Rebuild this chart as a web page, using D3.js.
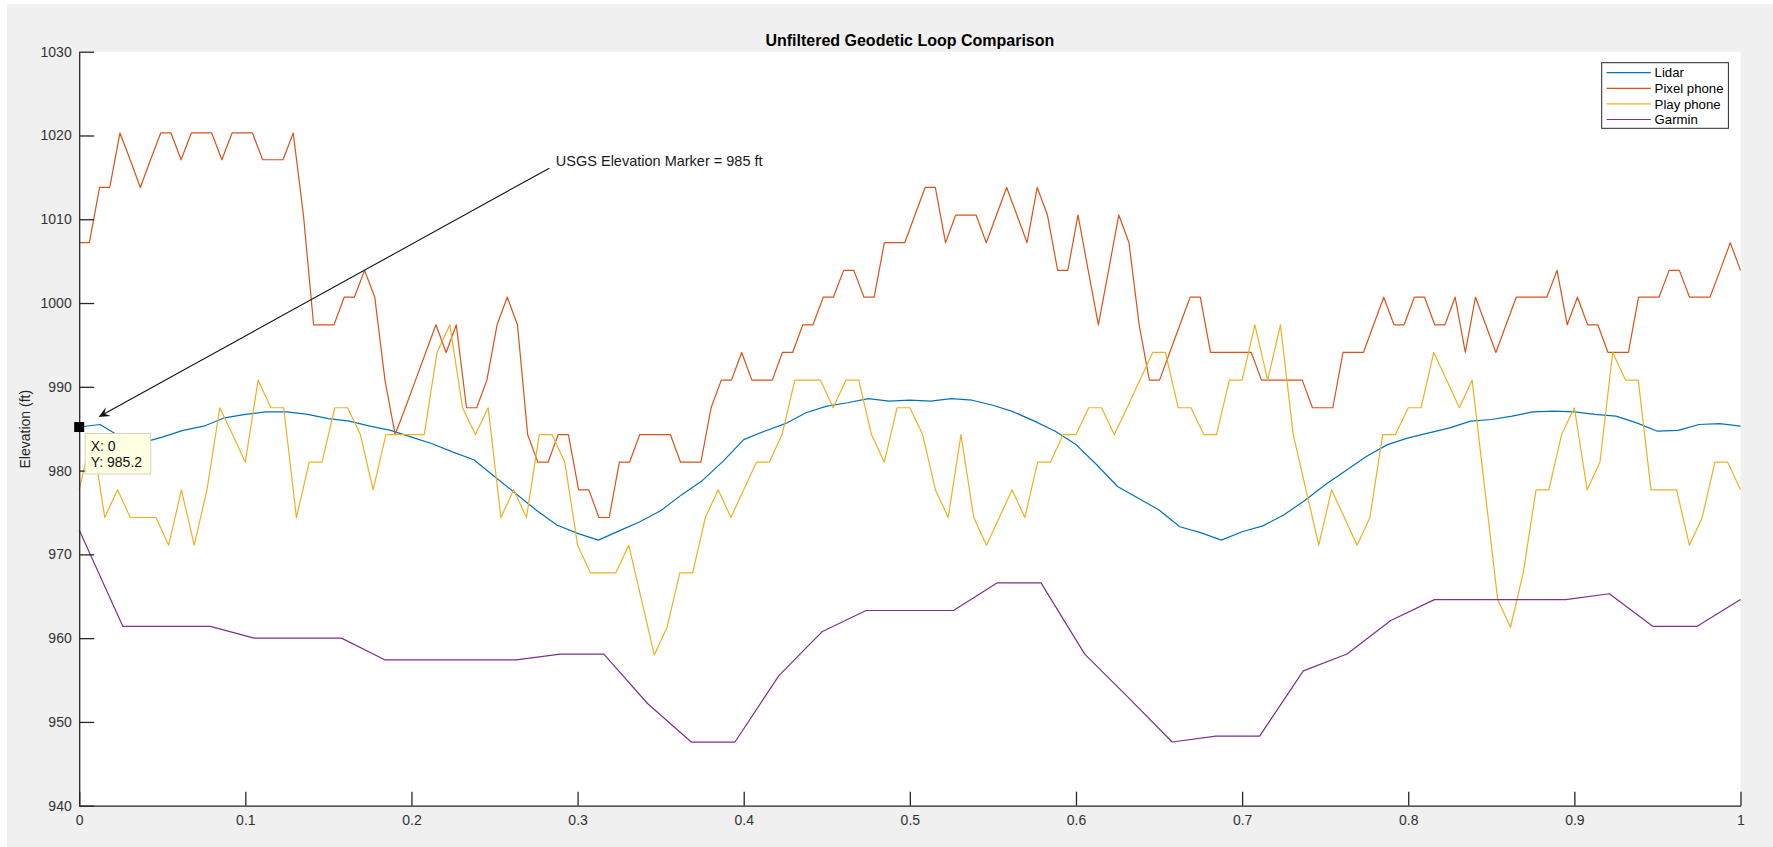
<!DOCTYPE html>
<html>
<head>
<meta charset="utf-8">
<script src="https://cdn.jsdelivr.net/npm/d3@7"></script>
<style>
  body { margin: 0; background: #fff; }
  text { font-family: "Liberation Sans", Arial, Helvetica, sans-serif; }
</style>
</head>
<body>
<svg id="chart"></svg>
<script>
// Elevation (ft) along the normalised loop distance.
const seriesNames = ['Lidar', 'Pixel phone', 'Play phone', 'Garmin'];
const seriesColors = ['#0072bd', '#d95319', '#edb120', '#7e2f8e'];

const lidar = [
  985.2, 985.5, 984.0, 983.3, 984.0, 984.8, 985.3, 986.3, 986.7, 987.0,
  987.0, 986.7, 986.2, 985.9, 985.3, 984.8, 984.0, 983.2, 982.2, 981.3,
  979.3, 977.3, 975.3, 973.5, 972.5, 971.7, 972.8, 973.9, 975.2, 977.1,
  978.8, 981.1, 983.7, 984.7, 985.6, 986.9, 987.7, 988.1, 988.6, 988.3,
  988.4, 988.3, 988.6, 988.4, 987.8, 987.0, 985.9, 984.7, 983.1, 980.7,
  978.1, 976.7, 975.3, 973.3, 972.6, 971.7, 972.7, 973.4, 974.7, 976.4,
  978.3, 980.0, 981.7, 983.1, 983.9, 984.5, 985.1, 985.9, 986.1, 986.5,
  987.0, 987.1, 987.0, 986.7, 986.5, 985.7, 984.7, 984.8, 985.5, 985.6,
  985.3,
];

const pixelPhone = [
  1007.2, 1007.2, 1013.8, 1013.8, 1020.3, 1017.1, 1013.8, 1017.1, 1020.3, 1020.3,
  1017.1, 1020.3, 1020.3, 1020.3, 1017.1, 1020.3, 1020.3, 1020.3, 1017.1, 1017.1,
  1017.1, 1020.3, 1010.5, 997.4, 997.4, 997.4, 1000.7, 1000.7, 1003.9, 1000.7,
  990.8, 984.3, 987.5, 990.8, 994.1, 997.4, 994.1, 997.4, 987.5, 987.5,
  990.8, 997.4, 1000.7, 997.4, 984.3, 981.0, 981.0, 984.3, 984.3, 977.7,
  977.7, 974.4, 974.4, 981.0, 981.0, 984.3, 984.3, 984.3, 984.3, 981.0,
  981.0, 981.0, 987.5, 990.8, 990.8, 994.1, 990.8, 990.8, 990.8, 994.1,
  994.1, 997.4, 997.4, 1000.7, 1000.7, 1003.9, 1003.9, 1000.7, 1000.7, 1007.2,
  1007.2, 1007.2, 1010.5, 1013.8, 1013.8, 1007.2, 1010.5, 1010.5, 1010.5, 1007.2,
  1010.5, 1013.8, 1010.5, 1007.2, 1013.8, 1010.5, 1003.9, 1003.9, 1010.5, 1003.9,
  997.4, 1003.9, 1010.5, 1007.2, 997.4, 990.8, 990.8, 994.1, 997.4, 1000.7,
  1000.7, 994.1, 994.1, 994.1, 994.1, 994.1, 990.8, 990.8, 990.8, 990.8,
  990.8, 987.5, 987.5, 987.5, 994.1, 994.1, 994.1, 997.4, 1000.7, 997.4,
  997.4, 1000.7, 1000.7, 997.4, 997.4, 1000.7, 994.1, 1000.7, 997.4, 994.1,
  997.4, 1000.7, 1000.7, 1000.7, 1000.7, 1003.9, 997.4, 1000.7, 997.4, 997.4,
  994.1, 994.1, 994.1, 1000.7, 1000.7, 1000.7, 1003.9, 1003.9, 1000.7, 1000.7,
  1000.7, 1003.9, 1007.2, 1003.9,
];

const playPhone = [
  977.7, 984.3, 974.4, 977.7, 974.4, 974.4, 974.4, 971.1, 977.7, 971.1,
  977.7, 987.5, 984.3, 981.0, 990.8, 987.5, 987.5, 974.4, 981.0, 981.0,
  987.5, 987.5, 984.3, 977.7, 984.3, 984.3, 984.3, 984.3, 994.1, 997.4,
  987.5, 984.3, 987.5, 974.4, 977.7, 974.4, 984.3, 984.3, 981.0, 971.1,
  967.8, 967.8, 967.8, 971.1, 964.6, 958.0, 961.3, 967.8, 967.8, 974.4,
  977.7, 974.4, 977.7, 981.0, 981.0, 984.3, 990.8, 990.8, 990.8, 987.5,
  990.8, 990.8, 984.3, 981.0, 987.5, 987.5, 984.3, 977.7, 974.4, 984.3,
  974.4, 971.1, 974.4, 977.7, 974.4, 981.0, 981.0, 984.3, 984.3, 987.5,
  987.5, 984.3, 987.5, 990.8, 994.1, 994.1, 987.5, 987.5, 984.3, 984.3,
  990.8, 990.8, 997.4, 990.8, 997.4, 984.3, 977.7, 971.1, 977.7, 974.4,
  971.1, 974.4, 984.3, 984.3, 987.5, 987.5, 994.1, 990.8, 987.5, 990.8,
  977.7, 964.6, 961.3, 967.8, 977.7, 977.7, 984.3, 987.5, 977.7, 981.0,
  994.1, 990.8, 990.8, 977.7, 977.7, 977.7, 971.1, 974.4, 981.0, 981.0,
  977.7,
];

const garmin = [
  972.9, 961.4, 961.4, 961.4, 960.0, 960.0, 960.0, 957.4, 957.4, 957.4,
  957.4, 958.1, 958.1, 952.2, 947.6, 947.6, 955.5, 960.8, 963.3, 963.3,
  963.3, 966.6, 966.6, 958.1, 952.9, 947.6, 948.3, 948.3, 956.1, 958.1,
  962.1, 964.6, 964.6, 964.6, 964.6, 965.3, 961.4, 961.4, 964.6,
];

const xTicks = [0, 0.1, 0.2, 0.3, 0.4, 0.5, 0.6, 0.7, 0.8, 0.9, 1];
const yTicks = [940, 950, 960, 970, 980, 990, 1000, 1010, 1020, 1030];

// annotation and data tip
const markerNote = 'USGS Elevation Marker = 985 ft';
const arrowTail = {x: 0.283, y: 1016.1};
const arrowHead = {x: 0.0117, y: 986.4};
const dataTip = {x: 0, y: 985.2};

const width = 1773;
const height = 847;
const axisColor = '#262626';

const svg = d3.select('#chart')
    .attr('width', width)
    .attr('height', height);

// figure background (gray with thin white edge top/left)
svg.append('rect').attr('width', width).attr('height', height).attr('fill', '#fff');
svg.append('rect')
    .attr('x', 7).attr('y', 4)
    .attr('width', width - 7).attr('height', height - 4)
    .attr('fill', '#f0f0f0');

const x = d3.scaleLinear().domain([0, 1]).range([79.2, 1740.5]);
const y = d3.scaleLinear().domain([940, 1030]).range([805.7, 51.7]);

svg.append('rect')
    .attr('x', x(0)).attr('y', y(1030))
    .attr('width', x(1) - x(0)).attr('height', y(940) - y(1030))
    .attr('fill', '#fff');

const series = [lidar, pixelPhone, playPhone, garmin];

svg.selectAll('.series')
    .data(series)
    .enter().append('path')
    .attr('class', 'series')
    .attr('fill', 'none')
    .attr('stroke', function(d, i) {
      return seriesColors[i];
    })
    .attr('stroke-width', 1.2)
    .attr('stroke-linejoin', 'round')
    .attr('d', function(values) {
      const n = values.length;
      return d3.line()
          .x(function(v, i) {
            return x(i / (n - 1));
          })
          .y(function(v) {
            return y(v);
          })(values);
    });

// axes, MATLAB style: ticks pointing inwards, no box
const xAxis = svg.append('g')
    .attr('transform', 'translate(0,' + y(940) + ')')
    .call(d3.axisBottom(x)
        .tickValues(xTicks)
        .tickFormat(function(d) {
          return String(d);
        })
        .tickSizeInner(-14)
        .tickSizeOuter(0)
        .tickPadding(9));

const yAxis = svg.append('g')
    .attr('transform', 'translate(' + x(0) + ',0)')
    .call(d3.axisLeft(y)
        .tickValues(yTicks)
        .tickFormat(d3.format('d'))
        .tickSizeInner(-15)
        .tickSizeOuter(0)
        .tickPadding(7.5));

[xAxis, yAxis].forEach(function(g) {
  g.select('.domain').attr('stroke', axisColor).attr('stroke-width', 1.3);
  g.selectAll('.tick line').attr('stroke', axisColor).attr('stroke-width', 1.3);
  g.selectAll('.tick text')
      .attr('fill', '#333')
      .style('font-size', '14px');
});

svg.append('text')
    .attr('x', (x(0) + x(1)) / 2)
    .attr('y', 45.5)
    .attr('text-anchor', 'middle')
    .style('font-size', '16px')
    .style('font-weight', 'bold')
    .attr('fill', '#000')
    .text('Unfiltered Geodetic Loop Comparison');

svg.append('text')
    .attr('transform', 'translate(25,' + ((y(940) + y(1030)) / 2 + 0.5) + ') rotate(-90)')
    .attr('text-anchor', 'middle')
    .attr('dy', '0.35em')
    .style('font-size', '14px')
    .attr('fill', axisColor)
    .text('Elevation (ft)');

// text arrow
const tx = x(arrowTail.x);
const ty = y(arrowTail.y);
const hx = x(arrowHead.x);
const hy = y(arrowHead.y);
const len = Math.hypot(hx - tx, hy - ty);
const ux = (hx - tx) / len;
const uy = (hy - ty) / len;
const headLen = 11;
const headHalf = 5;

svg.append('line')
    .attr('x1', tx).attr('y1', ty)
    .attr('x2', hx - ux * 6).attr('y2', hy - uy * 6)
    .attr('stroke', '#111')
    .attr('stroke-width', 1.1);

svg.append('path')
    .attr('d', d3.line()([
      [hx, hy],
      [hx - ux * headLen - uy * headHalf, hy - uy * headLen + ux * headHalf],
      [hx - ux * headLen * 0.6, hy - uy * headLen * 0.6],
      [hx - ux * headLen + uy * headHalf, hy - uy * headLen - ux * headHalf],
    ]) + 'Z')
    .attr('fill', '#111');

svg.append('text')
    .attr('x', tx + 6.5)
    .attr('y', ty - 2)
    .style('font-size', '14.5px')
    .attr('fill', '#1a1a1a')
    .text(markerNote);

// data tip
const mx = x(dataTip.x);
const my = y(dataTip.y);

svg.append('rect')
    .attr('x', mx + 6).attr('y', my + 6.5)
    .attr('width', 65.5).attr('height', 40.5)
    .attr('fill', '#ffffe1')
    .attr('stroke', '#d4d4c0')
    .attr('stroke-width', 1);

svg.append('text')
    .attr('x', mx + 11.5)
    .attr('y', my + 23.5)
    .style('font-size', '14px')
    .attr('fill', '#111')
    .text('X: ' + dataTip.x);

svg.append('text')
    .attr('x', mx + 11.5)
    .attr('y', my + 40)
    .style('font-size', '14px')
    .attr('fill', '#111')
    .text('Y: ' + dataTip.y);

svg.append('rect')
    .attr('x', mx - 5).attr('y', my - 5)
    .attr('width', 10).attr('height', 10)
    .attr('fill', '#000');

// legend
const legend = svg.append('g').attr('transform', 'translate(1601.7,62.7)');

legend.append('rect')
    .attr('width', 126.7)
    .attr('height', 65.6)
    .attr('fill', '#fff')
    .attr('stroke', axisColor)
    .attr('stroke-width', 1);

const rows = legend.selectAll('.row')
    .data(seriesNames)
    .enter().append('g')
    .attr('class', 'row')
    .attr('transform', function(d, i) {
      return 'translate(0,' + (10 + i * 15.6) + ')';
    });

rows.append('line')
    .attr('x1', 4.9).attr('x2', 49.1)
    .attr('stroke', function(d, i) {
      return seriesColors[i];
    })
    .attr('stroke-width', 1.2);

rows.append('text')
    .attr('x', 52.9)
    .attr('dy', '0.36em')
    .style('font-size', '13.2px')
    .attr('fill', '#000')
    .text(function(d) {
      return d;
    });
</script>
</body>
</html>
